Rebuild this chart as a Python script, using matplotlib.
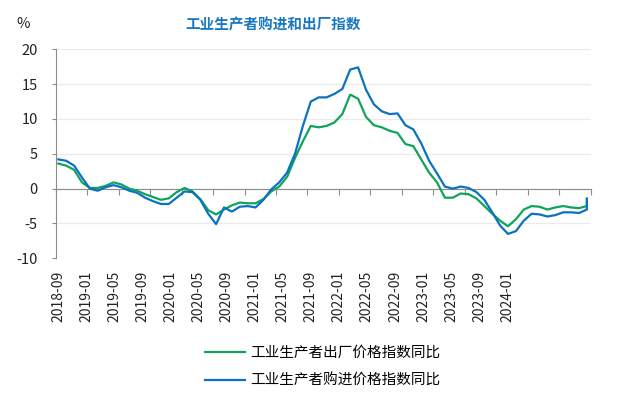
import numpy as np
import pandas as pd
import matplotlib
matplotlib.use("Agg")
import matplotlib.pyplot as plt

plt.rcParams['font.family'] = ['Noto Sans CJK SC', 'DejaVu Sans']
plt.rcParams['axes.unicode_minus'] = False

# 月份: 2018-09 ~ 2024-04, 最后一个值(2024-05)画在同一位置
months = pd.date_range('2018-09', '2024-04', freq='MS').strftime('%Y-%m').tolist()
months = months + [months[-1]]

# 工业生产者出厂价格指数同比 (%)
ppi = [3.6, 3.3, 2.7, 0.9, 0.1, 0.1, 0.4, 0.9, 0.6, 0.0, -0.3, -0.8,
       -1.2, -1.6, -1.4, -0.5, 0.1, -0.4, -1.5, -3.1, -3.7, -3.0, -2.4, -2.0,
       -2.1, -2.1, -1.5, -0.4, 0.3, 1.7, 4.4, 6.8, 9.0, 8.8, 9.0, 9.5,
       10.7, 13.5, 12.9, 10.3, 9.1, 8.8, 8.3, 8.0, 6.4, 6.1, 4.2, 2.3,
       0.9, -1.3, -1.3, -0.7, -0.8, -1.4, -2.5, -3.6, -4.6, -5.4, -4.4, -3.0,
       -2.5, -2.6, -3.0, -2.7, -2.5, -2.7, -2.8, -2.5, -1.4]

# 工业生产者购进价格指数同比 (%)
ppirm = [4.2, 4.0, 3.3, 1.6, 0.0, -0.3, 0.2, 0.5, 0.2, -0.3, -0.6, -1.3,
         -1.8, -2.2, -2.2, -1.3, -0.4, -0.5, -1.6, -3.6, -5.1, -2.7, -3.3, -2.6,
         -2.5, -2.7, -1.6, -0.1, 0.9, 2.3, 5.0, 9.0, 12.5, 13.1, 13.1, 13.6,
         14.3, 17.1, 17.4, 14.2, 12.1, 11.1, 10.7, 10.8, 9.1, 8.5, 6.5, 4.0,
         2.2, 0.3, 0.0, 0.3, 0.1, -0.5, -1.6, -3.4, -5.3, -6.5, -6.1, -4.6,
         -3.6, -3.7, -4.0, -3.8, -3.4, -3.4, -3.5, -3.0, -1.5]

tick_labels = ['2018-09', '2019-01', '2019-05', '2019-09', '2020-01', '2020-05',
               '2020-09', '2021-01', '2021-05', '2021-09', '2022-01', '2022-05',
               '2022-09', '2023-01', '2023-05', '2023-09', '2024-01']

green = '#10a35c'
blue = '#0b72c1'

# 月份 -> 位置
uniq = sorted(set(months))
x = np.array([uniq.index(m) for m in months], dtype=float)

fig = plt.figure(figsize=(6.24, 3.96), dpi=100)
ax = fig.add_axes([0.0893, 0.3477, 0.8573, 0.5278])

ax.plot(x, ppi, color=green, lw=1.6, label='工业生产者出厂价格指数同比', zorder=3)
ax.plot(x, ppirm, color=blue, lw=1.6, label='工业生产者购进价格指数同比', zorder=4)

xmin, xmax = -0.33, 67.48
ax.set_xlim(xmin, xmax)
ax.set_ylim(-10, 20)
ax.set_yticks(np.arange(-10, 21, 5))
ax.grid(axis='y', color='#ebebeb', lw=0.9)
ax.set_axisbelow(True)

for s in ['top', 'right']:
    ax.spines[s].set_visible(False)
ax.spines['left'].set_color('#8c8c8c')
ax.spines['bottom'].set_color('#8c8c8c')
ax.spines['bottom'].set_position(('data', 0))
ax.spines['bottom'].set_zorder(2)

# 0 轴上的刻度
ax.set_xticks(np.linspace(xmin, xmax, 18))
ax.tick_params(axis='x', length=4.5, color='#8c8c8c', labelbottom=False)
ax.tick_params(axis='y', length=3, color='#8c8c8c', pad=10, labelsize=10.5, labelcolor='#222222')

# 底部日期标签
sec = ax.secondary_xaxis(0)
sec.set_xticks(np.arange(len(tick_labels)) * 4 * 0.889, labels=tick_labels, rotation=90)
sec.tick_params(length=0, pad=9, labelsize=10, labelcolor='#222222')
sec.spines['bottom'].set_visible(False)

fig.text(0.037, 0.94, '%', ha='center', va='center', fontsize=10.5, color='#222222')
fig.text(0.438, 0.938, '工业生产者购进和出厂指数', ha='center', va='center',
         fontsize=10.5, fontweight='bold', color='#1a78c2')

fig.legend(loc='center left', bbox_to_anchor=(0.328, 0.073), frameon=False, ncol=1,
           fontsize=10.5, handlelength=2.75, handletextpad=0.4, labelspacing=0.94,
           borderaxespad=0, borderpad=0)

fig.savefig('out.png', dpi=100)
